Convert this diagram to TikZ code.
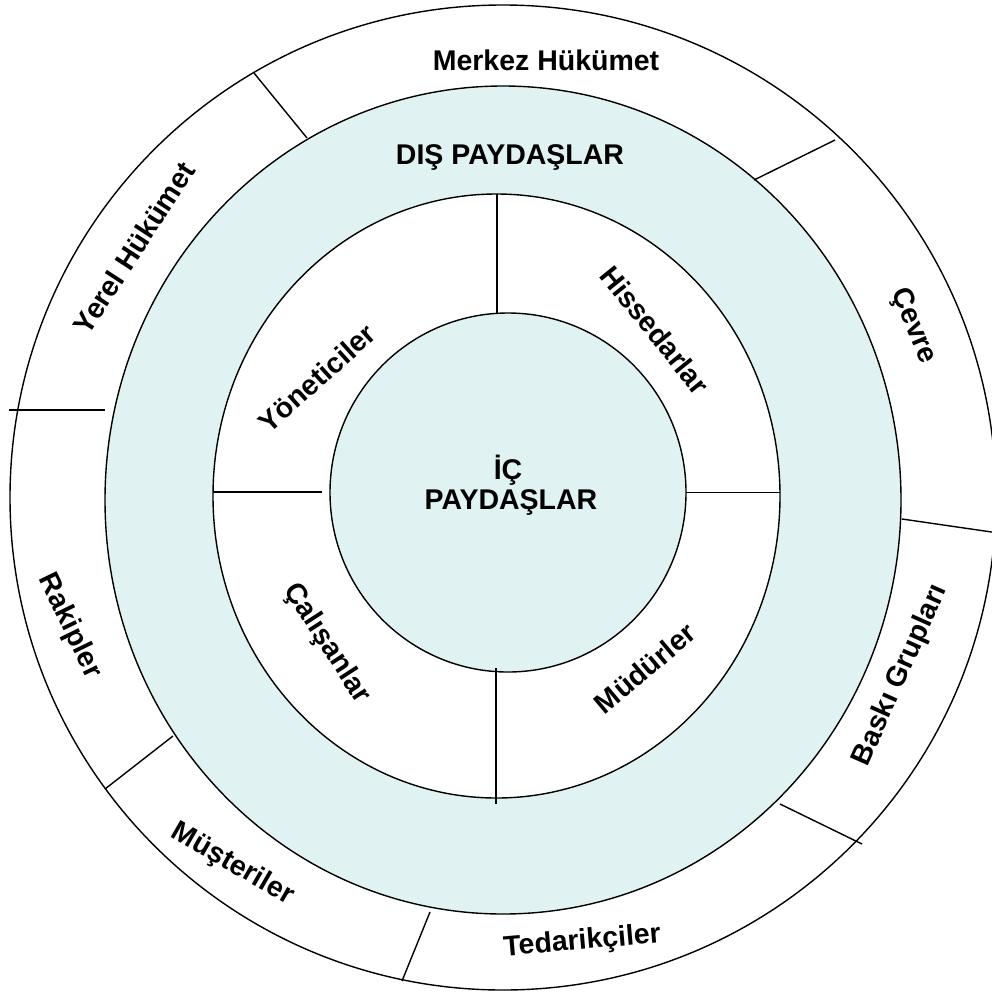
\documentclass[tikz,border=0pt]{standalone}
\usepackage{fontspec}
\setmainfont{Liberation Sans}
\begin{document}
\begin{tikzpicture}[x=1pt,y=-1pt,
  ring/.style={draw=black,line width=1.4pt},
  divider/.style={draw=black,line width=1.4pt},
  lbl/.style={font=\fontsize{28.5}{32}\selectfont\bfseries,inner sep=0pt,
              text height=20.4pt,text depth=0pt,anchor=center}]
\definecolor{paleteal}{RGB}{225,242,242}
\useasboundingbox (0,0) rectangle (992,991);
\clip (0,0) rectangle (992,991);
\fill[white] (0,0) rectangle (992,991);

% rings, outside in
\draw[ring,fill=white]    (503,497.5) ellipse [x radius=493pt,  y radius=492.5pt];
\draw[ring,fill=paleteal] (503,500)   ellipse [x radius=398pt,  y radius=414pt];
\draw[ring,fill=white]    (496.5,496) ellipse [x radius=283.5pt,y radius=302pt];
\draw[ring,fill=paleteal] (508,492.5) ellipse [x radius=178pt,  y radius=179.5pt];

% inner ring dividers
\coordinate (vt1) at (497,194); \coordinate (vt2) at (497,313);
\coordinate (vb1) at (496,668); \coordinate (vb2) at (496,804);
\coordinate (hl1) at (213,492); \coordinate (hl2) at (322,492);
\coordinate (hr1) at (686,492.5); \coordinate (hr2) at (780,492.5);
\draw[divider] (vt1) -- (vt2);
\draw[divider] (vb1) -- (vb2);
\draw[divider] (hl1) -- (hl2);
\draw[divider] (hr1) -- (hr2);

% outer ring dividers
\coordinate (a1) at (254,73);  \coordinate (a2) at (307,138);
\coordinate (b1) at (835,140); \coordinate (b2) at (754,180);
\coordinate (c1) at (9,410);   \coordinate (c2) at (105,410);
\coordinate (d1) at (902,519); \coordinate (d2) at (995,532.5);
\coordinate (e1) at (780,804); \coordinate (e2) at (862,844);
\coordinate (f1) at (105,789); \coordinate (f2) at (173,736);
\coordinate (g1) at (430,912); \coordinate (g2) at (402,981);
\draw[divider] (a1) -- (a2);
\draw[divider] (b1) -- (b2);
\draw[divider] (c1) -- (c2);
\draw[divider] (d1) -- (d2);
\draw[divider] (e1) -- (e2);
\draw[divider] (f1) -- (f2);
\draw[divider] (g1) -- (g2);

% centre
\node[lbl] (ic1) at (508,469.5) {İÇ};
\node[lbl] (ic2) at (511,499.5) {PAYDAŞLAR};

% inner ring
\node[lbl,rotate=42]  (yon) at (317,378) {Yöneticiler};
\node[lbl,rotate=-51] (his) at (655,330) {Hissedarlar};
\node[lbl,rotate=-57] (cal) at (329,642) {Çalışanlar};
\node[lbl,rotate=40]  (mud) at (645,668) {Müdürler};

% external ring
\node[lbl] (dis) at (510,154.5) {DIŞ PAYDAŞLAR};

% outer ring
\node[lbl] (mer) at (546,60) {Merkez Hükümet};
\node[lbl,rotate=57]  (yer) at (134,248) {Yerel Hükümet};
\node[lbl,rotate=-67] (cev) at (916,325) {Çevre};
\node[lbl,rotate=-64] (rak) at (72,625) {Rakipler};
\node[lbl,rotate=66]  (bas) at (898,674) {Baskı Grupları};
\node[lbl,rotate=-30] (mus) at (234,862) {Müşteriler};
\node[lbl,rotate=5]   (ted) at (582,939) {Tedarikçiler};
\end{tikzpicture}
\end{document}
